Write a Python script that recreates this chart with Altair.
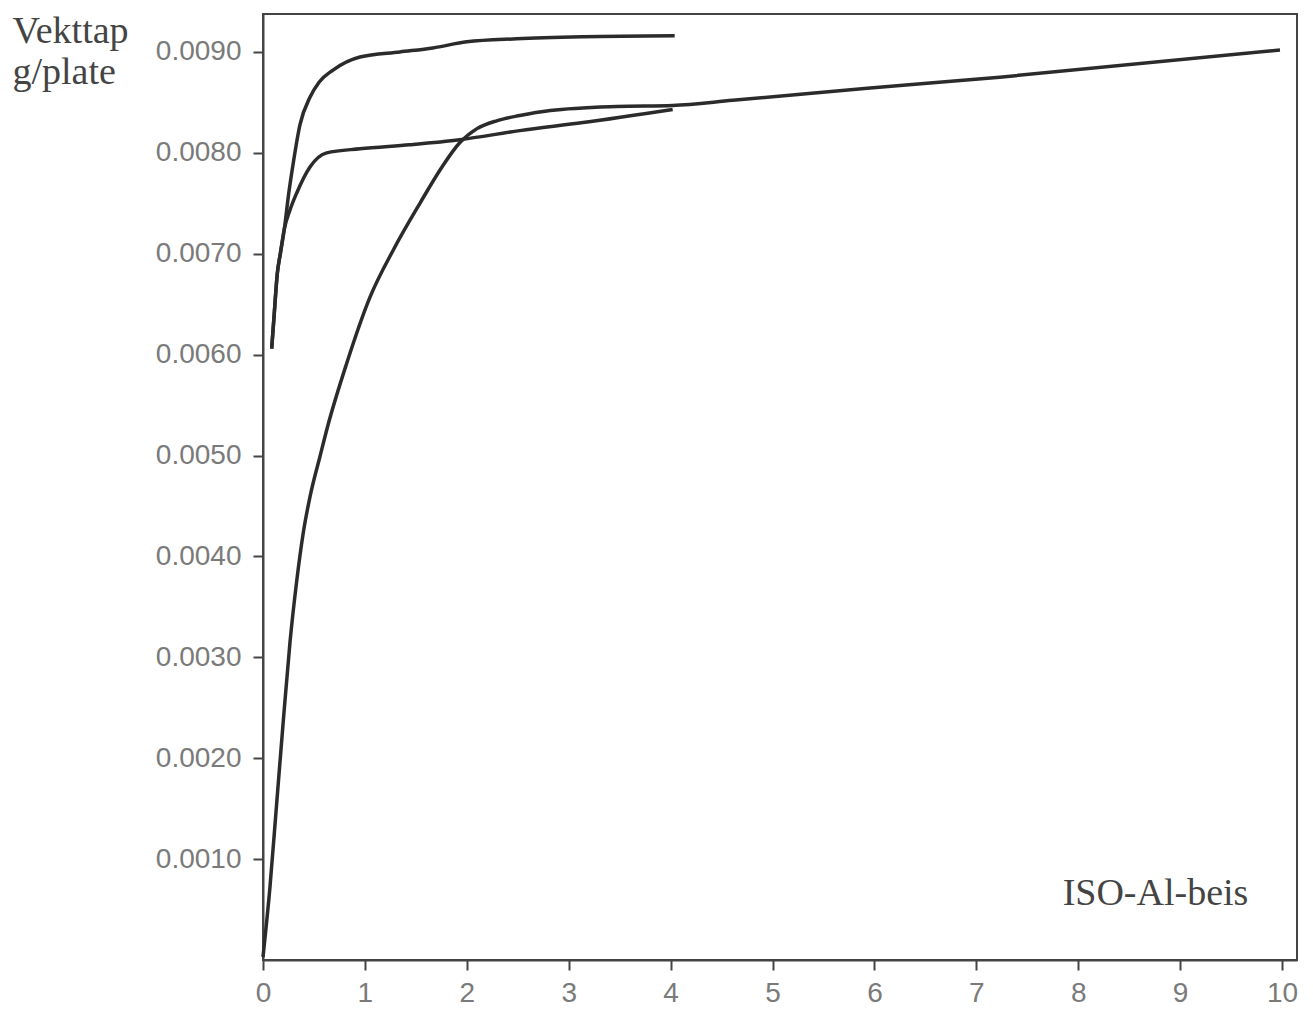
import altair as alt
import pandas as pd

# Curve A (top, levels near 0.0091)
a_x = [0.085, 0.11, 0.14, 0.17, 0.21, 0.25, 0.297, 0.363, 0.461, 0.55, 0.687, 0.952, 1.344, 1.668, 2.0, 2.49, 3.14, 4.04]
a_y = [0.00606, 0.0064, 0.0068, 0.0070, 0.00725, 0.00758, 0.00790, 0.00828, 0.00855, 0.00870, 0.00882, 0.00895, 0.00900, 0.00904, 0.00910, 0.00913, 0.00915, 0.00916]

# Curve B (plateau near 0.0080)
b_x = [0.085, 0.11, 0.14, 0.17, 0.21, 0.26, 0.33, 0.461, 0.625, 0.952, 1.44, 1.93, 2.52, 3.14, 4.02]
b_y = [0.00606, 0.0064, 0.0068, 0.0070, 0.00725, 0.00742, 0.0076, 0.00786, 0.0080, 0.00804, 0.00808, 0.00813, 0.00822, 0.0083, 0.00843]

# Curve C (from origin to x=10)
c_x = [0.0, 0.069, 0.134, 0.2, 0.265, 0.33, 0.396, 0.461, 0.559, 0.64, 0.82, 1.05, 1.28, 1.54, 1.75, 1.93, 2.1, 2.3, 2.52, 2.82, 3.47, 4.02, 4.61, 5.93, 7.23, 9.98]
c_y = [0.00003, 0.00073, 0.00155, 0.00238, 0.00315, 0.00375, 0.00424, 0.00459, 0.00499, 0.00531, 0.00591, 0.00657, 0.00704, 0.0075, 0.00785, 0.0081, 0.00824, 0.00832, 0.00837, 0.00842, 0.00846, 0.00847, 0.00852, 0.00864, 0.00875, 0.00902]

x_ticks = list(range(0, 11))
y_ticks = [0.001, 0.002, 0.003, 0.004, 0.005, 0.006, 0.007, 0.008, 0.009]

rows = []
for name, xs, ys in (("A", a_x, a_y), ("B", b_x, b_y), ("C", c_x, c_y)):
    for i, (xv, yv) in enumerate(zip(xs, ys)):
        rows.append({"series": name, "x": xv, "y": yv, "order": i})
df = pd.DataFrame(rows)

label_df = pd.DataFrame({"x": [9.67], "y": [0.000545], "text": ["ISO-Al-beis"]})

xscale = alt.Scale(domain=[0, 10.147], nice=False, zero=False)
yscale = alt.Scale(domain=[0, 0.009376], nice=False, zero=False)

lines = alt.Chart(df).mark_line(
    interpolate="monotone", strokeWidth=3.5, color="#2b2b2b"
).encode(
    x=alt.X("x:Q", scale=xscale,
            axis=alt.Axis(values=x_ticks, format="d", title=None, labelPadding=9,
                          labelFlush=False)),
    y=alt.Y("y:Q", scale=yscale,
            axis=alt.Axis(values=y_ticks, format=".4f",
                          title=["Vekttap", "g/plate"], titleAngle=0,
                          titleAlign="left", titleBaseline="alphabetic",
                          titleX=-251, titleY=28, titleLineHeight=41,
                          titleFont="Liberation Serif", titleFontSize=38,
                          titleFontWeight="normal", titleColor="#444444",
                          labelPadding=12, labelFlush=False)),
    detail="series:N",
    order="order:Q",
)

label = alt.Chart(label_df).mark_text(
    align="right", baseline="alphabetic", font="Liberation Serif",
    fontSize=38, color="#444444"
).encode(x=alt.X("x:Q", scale=xscale), y=alt.Y("y:Q", scale=yscale), text="text:N")

chart = (lines + label).properties(
    width=1034, height=946,
    padding={"left": 255, "top": 6, "right": 8, "bottom": 50},
    autosize="none",
).configure_view(
    stroke="#444444", strokeWidth=2
).configure_axis(
    grid=False,
    domainColor="#444444", domainWidth=2,
    tickColor="#444444", tickWidth=2, tickSize=10,
    labelFont="Liberation Sans", labelFontSize=28, labelColor="#7a7a7a",
)

chart.save("out.html", embed_options={"renderer": "svg", "actions": False})
